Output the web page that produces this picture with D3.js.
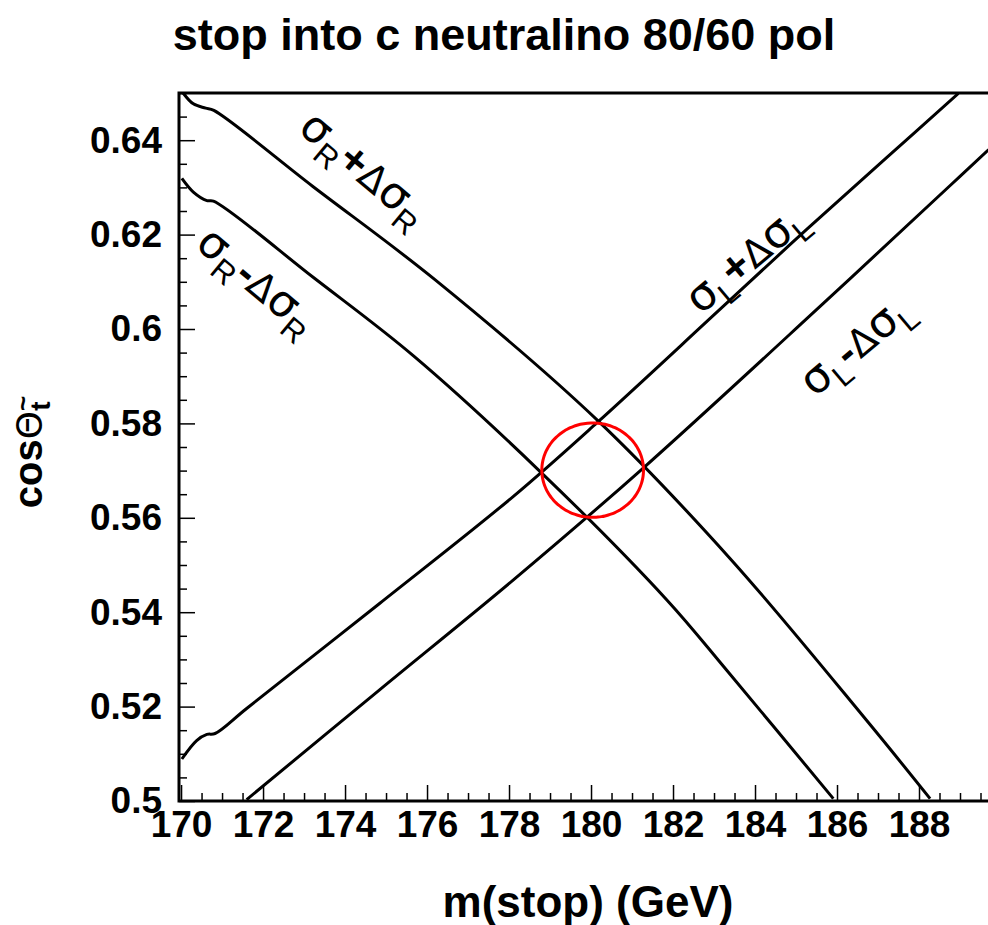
<!DOCTYPE html>
<html>
<head>
<meta charset="utf-8">
<script src="https://cdn.jsdelivr.net/npm/d3@7"></script>
<style>
  body { margin: 0; background: #fff; }
  svg { display: block; }
</style>
</head>
<body>
<svg id="chart" width="988" height="925"></svg>
<script>
// Band edges: cos(theta_t) versus stop mass for the measured cross sections
const sigmaRPlusMass = [170.05, 170.3, 170.6, 170.8, 173.2, 176.2, 180.14, 183.39, 186.72, 188.27];
const sigmaRPlusCos  = [0.650, 0.6477, 0.6468, 0.6463, 0.6303, 0.6104, 0.5808, 0.5514, 0.5171, 0.5005];

const sigmaRMinusMass = [170.02, 170.3, 170.63, 170.79, 173.23, 175.67, 178.76, 181.85, 183.31, 185.91];
const sigmaRMinusCos  = [0.6319, 0.6290, 0.6272, 0.6271, 0.6109, 0.5943, 0.5698, 0.5426, 0.5277, 0.5005];

const sigmaLPlusMass = [170.02, 170.38, 170.63, 170.83, 171.60, 174.85, 178.10, 180.14, 183.15, 185.26, 187.21, 188.96];
const sigmaLPlusCos  = [0.5089, 0.5128, 0.5141, 0.5143, 0.5196, 0.5419, 0.5645, 0.5801, 0.6042, 0.6211, 0.6363, 0.6499];

const sigmaLMinusMass = [171.60, 174.85, 178.10, 181.28, 185.6, 188.76, 189.7];
const sigmaLMinusCos  = [0.5003, 0.5236, 0.5468, 0.5706, 0.6049, 0.6304, 0.6380];

// Allowed region around the intersection (centre and half-widths)
const fitCentre = [180.04, 0.5701];
const fitHalfWidth = [1.24, 0.0100];

// Axis ticks
const xMajorTicks = [170, 172, 174, 176, 178, 180, 182, 184, 186, 188];
const xTickLabels = ["170", "172", "174", "176", "178", "180", "182", "184", "186", "188"];
const yMajorTicks = [0.5, 0.52, 0.54, 0.56, 0.58, 0.6, 0.62, 0.64];
const yTickLabels = ["0.5", "0.52", "0.54", "0.56", "0.58", "0.6", "0.62", "0.64"];

const svg = d3.select("#chart");
const frame = { left: 179, right: 1001, top: 93, bottom: 801 };

const x = d3.scaleLinear().domain([169.95, 190]).range([frame.left, frame.right]);
const y = d3.scaleLinear().domain([0.5, 0.65]).range([frame.bottom, frame.top]);

const FONT = "'Liberation Sans', Arial, Helvetica, sans-serif";

svg.append("rect").attr("width", 988).attr("height", 925).attr("fill", "#fff");

// Clip everything drawn inside the frame
svg.append("clipPath").attr("id", "frameClip")
  .append("rect")
  .attr("x", frame.left).attr("y", frame.top)
  .attr("width", frame.right - frame.left).attr("height", frame.bottom - frame.top);

// Minor ticks
const xMinor = d3.range(170, 190.001, 0.5).filter(v => !xMajorTicks.includes(+v.toFixed(2)));
const yMinor = d3.range(0.5, 0.6501, 0.005).filter(v => !yMajorTicks.some(t => Math.abs(t - v) < 1e-6));

const xAxisMinor = d3.axisBottom(x).tickValues(xMinor).tickSize(-8).tickFormat("");
const xAxisMajor = d3.axisBottom(x).tickValues(xMajorTicks).tickSize(-16).tickPadding(10)
  .tickFormat((d, i) => xTickLabels[i]);
const yAxisMinor = d3.axisLeft(y).tickValues(yMinor).tickSize(-8).tickFormat("");
const yAxisMajor = d3.axisLeft(y).tickValues(yMajorTicks).tickSize(-16).tickPadding(17)
  .tickFormat((d, i) => yTickLabels[i]);

function styleAxis(g) {
  g.select(".domain").remove();
  g.selectAll(".tick line").attr("stroke", "#000").attr("stroke-width", 1.5);
  g.selectAll(".tick text")
    .attr("fill", "#000")
    .style("font-family", FONT)
    .style("font-weight", "bold")
    .style("font-size", "37px");
}

svg.append("g").attr("transform", `translate(0,${frame.bottom})`).call(xAxisMinor).call(styleAxis);
svg.append("g").attr("transform", `translate(0,${frame.bottom})`).call(xAxisMajor).call(styleAxis);
svg.append("g").attr("transform", `translate(${frame.left},0)`).call(yAxisMinor).call(styleAxis);
svg.append("g").attr("transform", `translate(${frame.left},0)`).call(yAxisMajor).call(styleAxis);

// Frame
svg.append("rect")
  .attr("x", frame.left).attr("y", frame.top)
  .attr("width", frame.right - frame.left).attr("height", frame.bottom - frame.top)
  .attr("fill", "none").attr("stroke", "#000").attr("stroke-width", 3);

// Curves
const line = d3.line().x(d => x(d[0])).y(d => y(d[1])).curve(d3.curveCatmullRom.alpha(0.5));
const curves = [
  d3.zip(sigmaRPlusMass, sigmaRPlusCos),
  d3.zip(sigmaRMinusMass, sigmaRMinusCos),
  d3.zip(sigmaLPlusMass, sigmaLPlusCos),
  d3.zip(sigmaLMinusMass, sigmaLMinusCos)
];
const plot = svg.append("g").attr("clip-path", "url(#frameClip)");
plot.selectAll("path.band").data(curves).join("path")
  .attr("class", "band")
  .attr("d", line)
  .attr("fill", "none")
  .attr("stroke", "#000")
  .attr("stroke-width", 3)
  .attr("stroke-linejoin", "round");

// Allowed region
const ring = d3.range(0, 361, 4).map(a => {
  const t = a * Math.PI / 180;
  return [fitCentre[0] + fitHalfWidth[0] * Math.cos(t), fitCentre[1] + fitHalfWidth[1] * Math.sin(t)];
});
plot.append("path")
  .attr("d", d3.line().x(d => x(d[0])).y(d => y(d[1])).curve(d3.curveCardinalClosed)(ring))
  .attr("fill", "none").attr("stroke", "#ff0000").attr("stroke-width", 3);

// Curve labels
function bandLabel(cx, cy, angle, sub, sign) {
  const t = svg.append("text")
    .attr("transform", `translate(${cx},${cy}) rotate(${angle})`)
    .attr("text-anchor", "middle")
    .attr("dy", "0.35em")
    .style("font-family", "'DejaVu Sans', " + FONT)
    .style("font-size", "44px")
    .attr("fill", "#000");
  t.append("tspan").text("σ");
  t.append("tspan").attr("dy", 11).style("font-size", "31px").style("font-family", FONT).text(sub);
  t.append("tspan").attr("dy", -11).style("font-family", FONT).style("font-weight", "bold")
    .style("font-size", "44px").text(sign === "+" ? "+" : "-");
  t.append("tspan").style("font-size", "38px").text("Δ");
  t.append("tspan").text("σ");
  t.append("tspan").attr("dy", 11).style("font-size", "31px").style("font-family", FONT).text(sub);
}
bandLabel(365, 168, 40, "R", "+");
bandLabel(258, 280, 40, "R", "-");
bandLabel(745, 258, -40, "L", "+");
bandLabel(855, 344, -40, "L", "-");

// Title
svg.append("text")
  .attr("x", 504).attr("y", 50)
  .attr("text-anchor", "middle")
  .style("font-family", FONT).style("font-weight", "bold").style("font-size", "45px")
  .text("stop into c neutralino 80/60 pol");

// X axis title
svg.append("text")
  .attr("x", 588).attr("y", 917)
  .attr("text-anchor", "middle")
  .style("font-family", FONT).style("font-weight", "bold").style("font-size", "44px")
  .text("m(stop) (GeV)");

// Y axis title
const yt = svg.append("text")
  .attr("transform", "translate(42,452) rotate(-90)")
  .attr("text-anchor", "middle")
  .style("font-family", FONT).style("font-weight", "bold").style("font-size", "40px");
yt.append("tspan").text("cos");
yt.append("tspan").style("font-family", "'DejaVu Sans', sans-serif").style("font-weight", "normal").style("font-size", "36px").text("Θ");
yt.append("tspan").attr("dy", -10).style("font-size", "26px").text("~");
yt.append("tspan").attr("dx", -15).attr("dy", 18).style("font-size", "28px").text("t");
</script>
</body>
</html>
